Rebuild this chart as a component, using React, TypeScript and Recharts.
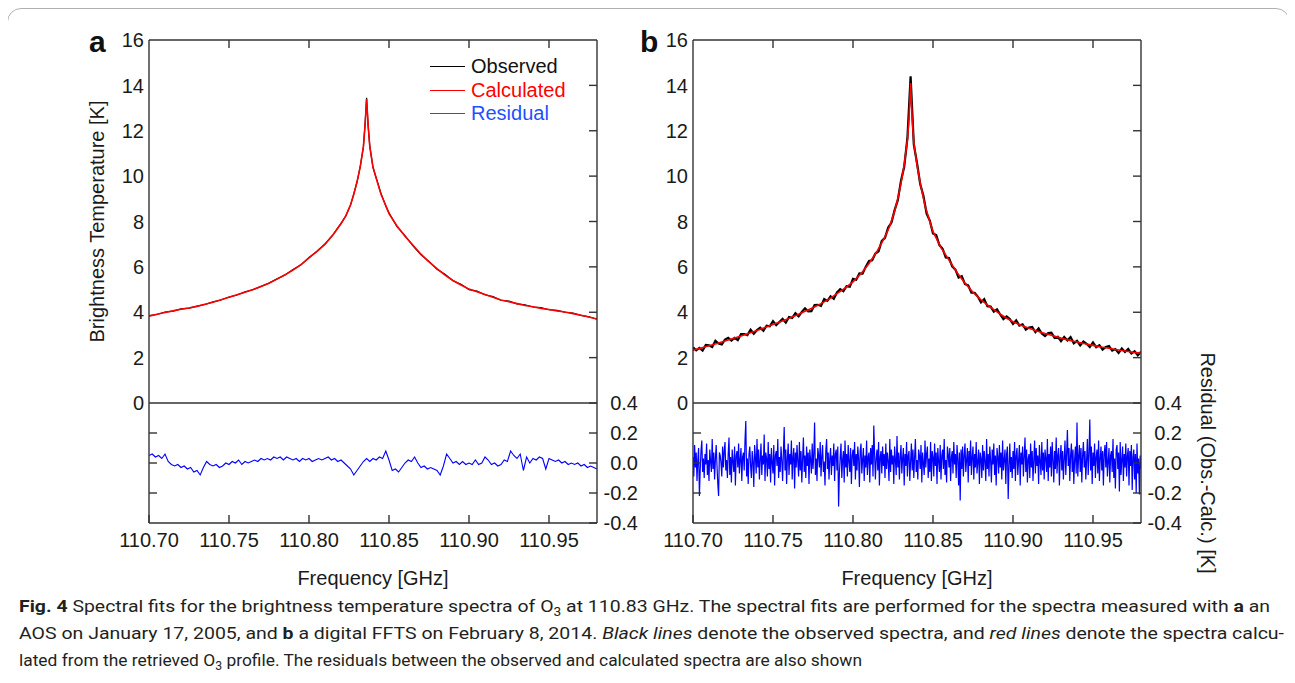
import React from "react";
import { LineChart, Line, XAxis, YAxis, Legend } from "recharts";

// frequency grid of the fitted spectra [GHz] (denser around the line centre)
const FIT_FREQ = [
  110.7, 110.705, 110.71, 110.715, 110.72, 110.725, 110.73, 110.735, 110.74, 110.745,
  110.75, 110.755, 110.76, 110.765, 110.77, 110.775, 110.78, 110.785, 110.79, 110.795,
  110.8, 110.805, 110.81, 110.815, 110.82,
  110.823, 110.826, 110.828, 110.83, 110.832, 110.834, 110.835, 110.836, 110.837, 110.838,
  110.84, 110.842, 110.845, 110.848, 110.85,
  110.855, 110.86, 110.865, 110.87, 110.875, 110.88, 110.885, 110.89, 110.895, 110.9,
  110.905, 110.91, 110.915, 110.92, 110.925, 110.93, 110.935, 110.94, 110.945, 110.95,
  110.955, 110.96, 110.965, 110.97, 110.975, 110.98,
];

// (a) AOS, 2005-01-17
const CALC_A = [
  3.83, 3.91, 3.99, 4.06, 4.13, 4.19, 4.26, 4.35, 4.44, 4.55,
  4.66, 4.77, 4.88, 5.0, 5.13, 5.28, 5.46, 5.65, 5.86, 6.1,
  6.4, 6.68, 7.0, 7.42, 7.9,
  8.25, 8.75, 9.2, 9.75, 10.4, 11.3, 12.2, 13.4, 12.2, 11.3,
  10.4, 9.9, 9.2, 8.7, 8.35,
  7.8, 7.35, 6.95, 6.56, 6.22, 5.92, 5.64, 5.4, 5.2, 5.02,
  4.9, 4.78, 4.66, 4.54, 4.46, 4.38, 4.3, 4.24, 4.17, 4.12,
  4.06, 4.01, 3.94, 3.87, 3.79, 3.7,
];
const OBS_A = [
  3.85, 3.9, 4.01, 4.05, 4.15, 4.18, 4.27, 4.34, 4.46, 4.54,
  4.67, 4.76, 4.9, 4.99, 5.14, 5.29, 5.47, 5.64, 5.88, 6.09,
  6.41, 6.69, 7.01, 7.41, 7.92,
  8.24, 8.72, 9.22, 9.73, 10.42, 11.28, 12.25, 13.45, 12.18, 11.32,
  10.38, 9.93, 9.24, 8.68, 8.38,
  7.77, 7.38, 6.93, 6.53, 6.24, 5.89, 5.67, 5.39, 5.23, 5.0,
  4.93, 4.77, 4.69, 4.53, 4.49, 4.37, 4.33, 4.23, 4.2, 4.11,
  4.08, 4.0, 3.96, 3.86, 3.8, 3.69,
];

// residual (a), one value every 2 MHz from 110.70 GHz
const RES_A_START = 110.7;
const RES_A_STEP = 0.002;
const RES_A = [
  0.05, 0.06, 0.04, 0.05, 0.03, 0.06, 0.01, -0.01, -0.02, -0.01,
  -0.03, -0.02, -0.04, -0.03, -0.06, -0.05, -0.08, -0.03, 0.01, -0.01,
  -0.02, -0.01, -0.03, -0.02, 0.0, -0.01, 0.01, 0.0, 0.02, -0.01,
  0.01, 0.0, 0.01, 0.02, 0.01, 0.03, 0.02, 0.03, 0.02, 0.04,
  0.03, 0.04, 0.02, 0.04, 0.03, 0.02, 0.03, 0.01, 0.03, 0.02,
  0.03, 0.01, 0.02, 0.03, 0.02, 0.03, 0.04, 0.02, 0.03, 0.01,
  0.02, 0.0, -0.02, -0.04, -0.08, -0.05, -0.02, 0.01, 0.03, 0.01,
  0.03, 0.02, 0.04, 0.03, 0.08, 0.02, -0.05, -0.04, -0.06, -0.03,
  0.0, 0.02, 0.01, 0.04, 0.0, -0.03, -0.02, -0.04, -0.03, -0.04,
  -0.05, -0.08, -0.02, 0.06, 0.03, 0.0, 0.01, -0.01, 0.01, -0.01,
  0.0, -0.01, 0.02, -0.01, 0.0, 0.04, 0.02, -0.01, 0.0, -0.02,
  -0.01, 0.02, 0.01, 0.08, 0.05, 0.03, 0.06, -0.05, 0.04, 0.0,
  0.03, 0.02, 0.04, 0.03, -0.04, 0.03, 0.02, 0.01, 0.02, 0.0,
  0.01, -0.01, 0.0, -0.01, 0.0, -0.02, -0.01, -0.03, -0.02, -0.03,
  -0.04,
];

// (b) digital FFTS, 2014-02-08
const CALC_B = [
  2.33, 2.42, 2.52, 2.62, 2.73, 2.84, 2.95, 3.07, 3.2, 3.33,
  3.46, 3.59, 3.73, 3.88, 4.04, 4.2, 4.38, 4.58, 4.82, 5.06,
  5.34, 5.7, 6.15, 6.68, 7.32,
  7.8, 8.45, 9.0, 9.68, 10.5, 11.6, 12.5, 14.1, 12.5, 11.5,
  10.5, 9.7, 8.7, 8.0, 7.55,
  6.85, 6.3, 5.75, 5.28, 4.88, 4.55, 4.27, 4.02, 3.78, 3.58,
  3.43, 3.3, 3.17, 3.06, 2.96, 2.86, 2.77, 2.69, 2.61, 2.54,
  2.47, 2.41, 2.35, 2.29, 2.24, 2.2,
];

// observed (b), one value every 2 MHz from 110.70 GHz
const OBS_B_START = 110.7;
const OBS_B_STEP = 0.002;
const OBS_B = [
  2.45, 2.32, 2.43, 2.31, 2.56, 2.54, 2.47, 2.74, 2.62, 2.58,
  2.79, 2.87, 2.75, 2.87, 2.77, 3.04, 3.04, 2.99, 3.23, 3.05,
  3.22, 3.32, 3.18, 3.41, 3.38, 3.61, 3.43, 3.57, 3.71, 3.54,
  3.79, 3.75, 3.96, 3.82, 4.01, 4.17, 4.04, 4.05, 4.32, 4.33,
  4.28, 4.58, 4.5, 4.7, 4.59, 4.87, 5.02, 4.93, 5.15, 5.12,
  5.47, 5.43, 5.71, 5.7, 6.01, 6.26, 6.29, 6.59, 6.69, 7.15,
  7.28, 7.74, 7.94, 8.5, 8.94, 9.8, 10.41, 11.67, 14.4, 11.4,
  10.58, 9.65, 9.14, 8.35, 8.04, 7.47, 7.4, 6.96, 6.8, 6.41,
  6.39, 6.02, 5.88, 5.53, 5.59, 5.24, 5.19, 4.86, 4.86, 4.69,
  4.43, 4.58, 4.27, 4.25, 4.03, 4.13, 3.9, 3.7, 3.82, 3.7,
  3.48, 3.64, 3.41, 3.47, 3.23, 3.33, 3.35, 3.12, 3.29, 3.06,
  2.95, 3.08, 3.1, 2.87, 2.92, 2.73, 2.91, 2.76, 2.9, 2.63,
  2.74, 2.54, 2.71, 2.61, 2.47, 2.67, 2.46, 2.55, 2.35, 2.47,
  2.51, 2.31, 2.38, 2.21, 2.4, 2.25, 2.38, 2.18, 2.28, 2.1,
  2.26,
];

// residual (b), one value every 0.5 MHz from 110.70 GHz
const RES_B_START = 110.7;
const RES_B_STEP = 0.0005;
const RES_B = [
  0.04, -0.09, 0.12, -0.03, 0.07, -0.12, 0.02, 0.1, -0.22, -0.05, 0.08, 0.15, -0.06, 0.03, -0.1, 0.06, -0.01, 0.13, -0.08, 0.02,
  -0.12, 0.09, 0.01, -0.06, 0.16, -0.04, 0.07, -0.11, 0.03, 0.12, -0.02, -0.14, -0.22, 0.07, 0.05, 0.0, -0.09, 0.11, -0.03, 0.08,
  0.14, -0.05, 0.02, -0.1, 0.06, 0.17, -0.08, 0.04, -0.13, 0.09, 0.01, -0.06, 0.11, -0.15, 0.05, 0.08, -0.03, 0.13, -0.07, 0.02,
  0.1, -0.12, 0.04, 0.07, -0.05, 0.15, 0.28, -0.09, 0.03, -0.14, 0.06, 0.11, -0.02, -0.1, 0.08, 0.01, -0.16, 0.12, 0.04, -0.07,
  0.16, -0.03, 0.09, -0.11, 0.02, 0.13, -0.08, 0.05, -0.01, 0.19, -0.12, 0.07, 0.03, -0.09, 0.14, -0.04, 0.06, -0.13, 0.1, 0.0,
  -0.07, 0.12, -0.15, 0.05, 0.08, -0.02, 0.16, -0.1, 0.04, -0.06, 0.11, 0.02, -0.12, 0.07, 0.24, -0.05, 0.09, -0.14, 0.03, 0.13,
  -0.08, 0.06, -0.01, 0.15, -0.11, 0.04, 0.1, -0.17, 0.07, -0.03, 0.12, 0.01, -0.09, 0.14, -0.05, 0.08, -0.13, 0.03, 0.17, -0.06,
  0.05, -0.1, 0.11, -0.02, 0.07, -0.14, 0.09, 0.02, -0.07, 0.13, -0.04, 0.06, 0.27, -0.08, 0.03, -0.12, 0.1, 0.05, -0.03, 0.14,
  -0.09, 0.04, 0.12, -0.06, 0.01, -0.15, 0.08, 0.16, -0.04, 0.07, -0.11, 0.03, 0.1, -0.08, 0.05, -0.02, 0.13, -0.12, 0.06, 0.09,
  -0.05, 0.11, -0.29, -0.07, 0.04, 0.13, -0.1, 0.02, 0.08, -0.13, 0.15, -0.03, 0.06, -0.09, 0.12, 0.01, -0.06, 0.1, -0.14, 0.05,
  0.09, -0.02, 0.14, -0.11, 0.06, -0.05, 0.11, 0.03, -0.16, 0.08, 0.13, -0.07, 0.02, 0.1, -0.12, 0.05, -0.03, 0.15, -0.08, 0.04,
  0.07, -0.13, 0.1, -0.01, 0.12, -0.09, 0.25, 0.06, -0.11, 0.03, 0.09, -0.05, 0.14, -0.15, 0.04, 0.08, -0.07, 0.11, -0.02, 0.06,
  -0.1, 0.13, -0.04, 0.07, 0.01, -0.12, 0.16, -0.06, 0.09, -0.01, 0.05, -0.14, 0.11, 0.02, -0.08, 0.18, -0.03, 0.07, -0.11, 0.04,
  0.12, -0.07, 0.03, 0.1, -0.15, 0.06, -0.02, 0.14, -0.09, 0.05, 0.08, -0.12, 0.01, 0.13, -0.05, 0.09, -0.1, 0.04, 0.16, -0.06,
  0.02, -0.11, 0.09, 0.05, -0.04, 0.12, -0.13, 0.07, 0.0, -0.08, 0.15, -0.03, 0.06, 0.11, -0.1, 0.03, -0.06, 0.14, -0.12, 0.08,
  0.04, -0.09, 0.13, -0.02, 0.07, -0.14, 0.1, 0.01, -0.06, 0.12, -0.11, 0.05, 0.09, -0.04, 0.16, -0.08, 0.02, -0.13, 0.11, 0.06,
  -0.03, 0.1, -0.12, 0.04, 0.08, -0.07, 0.14, -0.01, 0.06, -0.1, 0.12, 0.03, -0.15, 0.07, -0.25, 0.09, -0.04, 0.11, -0.09, 0.05,
  0.13, -0.06, 0.02, 0.1, -0.13, 0.08, -0.02, 0.15, -0.08, 0.04, 0.11, -0.11, 0.06, -0.03, 0.14, -0.07, 0.01, 0.09, -0.14, 0.07,
  0.03, -0.1, 0.12, -0.05, 0.08, 0.01, -0.12, 0.16, -0.04, 0.06, -0.09, 0.11, 0.02, -0.13, 0.09, -0.01, 0.13, -0.08, 0.05, -0.15,
  0.1, 0.04, -0.07, 0.12, -0.03, 0.07, -0.11, 0.15, -0.05, 0.02, 0.09, -0.14, 0.06, 0.11, -0.24, -0.02, 0.13, -0.06, 0.04, -0.1,
  0.08, -0.04, 0.14, -0.12, 0.05, 0.1, -0.08, 0.02, 0.12, -0.15, 0.07, -0.01, 0.11, -0.09, 0.04, 0.17, -0.06, 0.09, -0.13, 0.03,
  0.06, -0.1, 0.13, -0.03, 0.08, -0.12, 0.02, 0.15, -0.07, 0.1, -0.02, 0.05, -0.14, 0.12, 0.01, -0.08, 0.14, -0.05, 0.07, -0.11,
  0.09, 0.03, -0.06, 0.16, -0.12, 0.06, -0.03, 0.11, -0.09, 0.14, 0.02, -0.13, 0.08, -0.04, 0.17, -0.07, 0.05, 0.1, -0.15, 0.04,
  0.12, -0.05, 0.08, -0.11, 0.03, 0.15, -0.08, 0.06, 0.22, -0.02, 0.1, -0.12, 0.05, 0.13, -0.06, 0.09, -0.14, 0.02, 0.11, -0.07,
  0.27, -0.09, 0.04, 0.12, -0.06, 0.1, -0.13, 0.05, 0.14, -0.03, 0.08, -0.11, 0.02, 0.16, -0.08, 0.06, 0.29, -0.05, 0.11, -0.14,
  0.07, -0.02, 0.13, -0.1, 0.04, 0.09, -0.07, 0.15, -0.12, 0.03, 0.11, -0.05, 0.08, -0.15, 0.06, 0.12, -0.03, 0.14, -0.09, 0.01,
  0.1, -0.13, 0.05, 0.08, -0.06, 0.16, -0.1, 0.03, -0.17, 0.09, 0.12, -0.04, 0.07, -0.19, 0.14, -0.08, 0.02, 0.11, -0.12, 0.06,
  -0.03, 0.13, -0.09, 0.05, 0.1, -0.15, 0.08, -0.02, 0.12, -0.18, 0.04, 0.09, -0.11, 0.06, -0.2, 0.13, -0.07, 0.03, -0.21, 0.05,
  -0.04,
];

const X_DOMAIN: [number, number] = [110.7, 110.98];
const X_TICKS = [110.7, 110.75, 110.8, 110.85, 110.9, 110.95];
const TB_TICKS = [0, 2, 4, 6, 8, 10, 12, 14, 16];
const TB_INNER_TICKS = [2, 4, 6, 8, 10, 12, 14];
const RES_TICKS = [-0.4, -0.2, 0, 0.2, 0.4];

const LEGEND = [
  { label: "Observed", line: "#000000", text: "#111111" },
  { label: "Calculated", line: "#ff0000", text: "#ff0000" },
  { label: "Residual", line: "#1f4fff", text: "#1f4fff" },
];

const FONT = '"Liberation Sans", Arial, Helvetica, sans-serif';
const INK = "#1a1a1a";
const FRAME = "#333333";

// plot area edges on the page
const TOP = 40;
const ZERO = 403;
const BOTTOM = 523;
const PANEL_A = { left: 149, right: 597 };
const PANEL_B = { left: 693, right: 1141 };
const PAD = 5;

const rows = (freq: number[], vals: number[]) => freq.map((f, i) => ({ f, v: vals[i] }));
const gridRows = (start: number, step: number, vals: number[]) =>
  vals.map((v, i) => ({ f: +(start + i * step).toFixed(4), v }));

function box(left: number, right: number, top: number, bottom: number, lw: number, rw: number, th: number, bh: number, extraTop = 0) {
  const x0 = left - lw - PAD;
  const y0 = top - th - PAD - extraTop;
  return {
    x0,
    y0,
    w: right + rw + PAD - x0,
    h: bottom + bh + PAD - y0,
    mt: PAD + extraTop,
    pl: left - x0,
    pr: right - x0,
    pt: top - y0,
    pb: bottom - y0,
  };
}

type Side = "left" | "right" | "top" | "bottom";

// inward tick marks, labels drawn outside the frame
function makeTick(side: Side, edge: number, opts: { len?: number; text?: (v: number) => string; gap?: number } = {}) {
  const len = opts.len ?? 8;
  return function AxisTick(props: any) {
    const { x, y, payload } = props;
    const v: number = payload.value;
    const label = opts.text ? opts.text(v) : null;
    if (side === "left" || side === "right") {
      const dir = side === "left" ? 1 : -1;
      const tx = side === "left" ? edge - (opts.gap ?? 5) : edge + (opts.gap ?? 41);
      return (
        <g>
          {len > 0 && <line x1={edge} x2={edge + dir * len} y1={y} y2={y} stroke={FRAME} strokeWidth={1.4} />}
          {label !== null && (
            <text x={tx} y={y} dy="0.36em" textAnchor="end" fontFamily={FONT} fontSize={20} fill={INK}>
              {label}
            </text>
          )}
        </g>
      );
    }
    const dir = side === "top" ? 1 : -1;
    return (
      <g>
        {len > 0 && <line x1={x} x2={x} y1={edge} y2={edge + dir * len} stroke={FRAME} strokeWidth={1.4} />}
        {label !== null && (
          <text x={x} y={edge + 10} dy="0.71em" textAnchor="middle" fontFamily={FONT} fontSize={20} fill={INK}>
            {label}
          </text>
        )}
      </g>
    );
  };
}

const axisLine = { stroke: FRAME, strokeWidth: 1.4 };

function LegendBox() {
  return (
    <div>
      {LEGEND.map((item) => (
        <div
          key={item.label}
          style={{ display: "flex", alignItems: "center", height: 23.5, fontFamily: FONT, fontSize: 20, color: item.text }}
        >
          <span style={{ display: "inline-block", width: 35, borderTop: `1.5px solid ${item.line}`, marginRight: 6 }} />
          {item.label}
        </div>
      ))}
    </div>
  );
}

function UpperChart({ panel, calc, obs, obsWidth, title, legend }: any) {
  const b = box(panel.left, panel.right, TOP, ZERO, 104, 60, 10, 10);
  return (
    <div style={{ position: "absolute", left: b.x0, top: b.y0 }}>
      <LineChart width={b.w} height={b.h} margin={{ top: b.mt, right: PAD, bottom: PAD, left: PAD }}>
        <XAxis xAxisId="bot" dataKey="f" type="number" domain={X_DOMAIN} allowDataOverflow ticks={X_TICKS}
          height={10} axisLine={axisLine} tickLine={false} tick={false} />
        <XAxis xAxisId="top" orientation="top" dataKey="f" type="number" domain={X_DOMAIN} allowDataOverflow
          ticks={X_TICKS.slice(1)} interval={0} height={10} axisLine={axisLine} tickLine={false}
          tick={makeTick("top", b.pt)} />
        <YAxis yAxisId="l" type="number" domain={[0, 16]} allowDataOverflow ticks={TB_TICKS} interval={0} width={104}
          axisLine={axisLine} tickLine={false} tick={makeTick("left", b.pl, { len: 0, text: (v) => String(v) })}
          label={title ? { value: title, angle: -90, position: "center", fontSize: 20, fill: INK, fontFamily: FONT } : undefined} />
        <YAxis yAxisId="r" orientation="right" type="number" domain={[0, 16]} allowDataOverflow ticks={TB_INNER_TICKS}
          interval={0} width={60} axisLine={axisLine} tickLine={false} tick={makeTick("right", b.pr)} />
        <Line xAxisId="bot" yAxisId="l" data={obs} dataKey="v" type="linear" stroke="#000000" strokeWidth={obsWidth}
          dot={false} isAnimationActive={false} />
        <Line xAxisId="bot" yAxisId="l" data={calc} dataKey="v" type="linear" stroke="#ff0000" strokeWidth={1.6}
          dot={false} isAnimationActive={false} />
        {legend && (
          <Legend layout="vertical" align="center" verticalAlign="middle"
            wrapperStyle={{ left: 430 - b.x0, top: 55 - b.y0, width: 170, height: 72 }}
            content={() => <LegendBox />} />
        )}
      </LineChart>
    </div>
  );
}

function ResidualChart({ panel, resid, residWidth, title }: any) {
  const b = box(panel.left, panel.right, ZERO, BOTTOM, 104, 134, 0, 65, 150);
  return (
    <div style={{ position: "absolute", left: b.x0, top: b.y0 }}>
      <LineChart width={b.w} height={b.h} margin={{ top: b.mt, right: PAD, bottom: PAD, left: PAD }}>
        <XAxis xAxisId="bot" dataKey="f" type="number" domain={X_DOMAIN} allowDataOverflow ticks={X_TICKS} interval={0}
          height={65} axisLine={axisLine} tickLine={false}
          tick={makeTick("bottom", b.pb, { text: (v) => v.toFixed(2) })}
          label={{ value: "Frequency [GHz]", position: "insideBottom", offset: 3, fontSize: 20, fill: INK, fontFamily: FONT }} />
        <YAxis yAxisId="l" type="number" domain={[-0.4, 0.4]} allowDataOverflow ticks={[-0.2, 0, 0.2]} interval={0}
          width={104} axisLine={axisLine} tickLine={false} tick={makeTick("left", b.pl)} />
        <YAxis yAxisId="r" orientation="right" type="number" domain={[-0.4, 0.4]} allowDataOverflow ticks={RES_TICKS}
          interval={0} width={134} axisLine={axisLine} tickLine={false}
          tick={makeTick("right", b.pr, { text: (v) => v.toFixed(1), gap: 41 })}
          label={title ? { value: title, angle: 90, position: "center", fontSize: 20, fill: INK, fontFamily: FONT } : undefined} />
        <Line xAxisId="bot" yAxisId="l" data={resid} dataKey="v" type="linear" stroke="#0000ff" strokeWidth={residWidth}
          dot={false} isAnimationActive={false} />
      </LineChart>
    </div>
  );
}

export default function App() {
  const calcA = rows(FIT_FREQ, CALC_A);
  const obsA = rows(FIT_FREQ, OBS_A);
  const calcB = rows(FIT_FREQ, CALC_B);
  const obsB = gridRows(OBS_B_START, OBS_B_STEP, OBS_B);
  const resA = gridRows(RES_A_START, RES_A_STEP, RES_A);
  const resB = gridRows(RES_B_START, RES_B_STEP, RES_B);

  const cap = { fontFamily: "Roboto, 'Noto Sans', sans-serif", fontSize: 17, fill: "#231f20" };

  return (
    <div style={{ position: "relative", width: 1295, height: 683, margin: -8, background: "#fff", overflow: "hidden" }}>
      <div style={{ position: "absolute", left: 7, top: 8, width: 1281, height: 680, border: "1px solid #b0b0b0", borderRadius: 14 }} />

      <UpperChart panel={PANEL_A} calc={calcA} obs={obsA} obsWidth={1.2} title="Brightness Temperature [K]" legend />
      <ResidualChart panel={PANEL_A} resid={resA} residWidth={1.1} />
      <UpperChart panel={PANEL_B} calc={calcB} obs={obsB} obsWidth={2.2} />
      <ResidualChart panel={PANEL_B} resid={resB} residWidth={1.2} title="Residual (Obs.-Calc.) [K]" />

      <svg width={1295} height={683} style={{ position: "absolute", left: 0, top: 0, pointerEvents: "none" }}>
        <text x={89} y={52} fontFamily={FONT} fontSize={30} fontWeight={700} fill="#111">a</text>
        <text x={640} y={52} fontFamily={FONT} fontSize={30} fontWeight={700} fill="#111">b</text>

        <text x={19} y={612} textLength={1251} lengthAdjust="spacingAndGlyphs" {...cap}>
          <tspan fontWeight={700}>Fig. 4</tspan>
          {"  Spectral fits for the brightness temperature spectra of O"}
          <tspan dy={4} fontSize={12}>3</tspan>
          <tspan dy={-4}>{" at 110.83 GHz. The spectral fits are performed for the spectra measured with "}</tspan>
          <tspan fontWeight={700}>a</tspan>
          {" an"}
        </text>
        <text x={19} y={639} textLength={1265} lengthAdjust="spacingAndGlyphs" {...cap}>
          {"AOS on January 17, 2005, and "}
          <tspan fontWeight={700}>b</tspan>
          {" a digital FFTS on February 8, 2014. "}
          <tspan fontStyle="italic">Black lines</tspan>
          {" denote the observed spectra, and "}
          <tspan fontStyle="italic">red lines</tspan>
          {" denote the spectra calcu-"}
        </text>
        <text x={19} y={666} textLength={843} lengthAdjust="spacingAndGlyphs" {...cap}>
          {"lated from the retrieved O"}
          <tspan dy={4} fontSize={12}>3</tspan>
          <tspan dy={-4}>{" profile. The residuals between the observed and calculated spectra are also shown"}</tspan>
        </text>
      </svg>
    </div>
  );
}
